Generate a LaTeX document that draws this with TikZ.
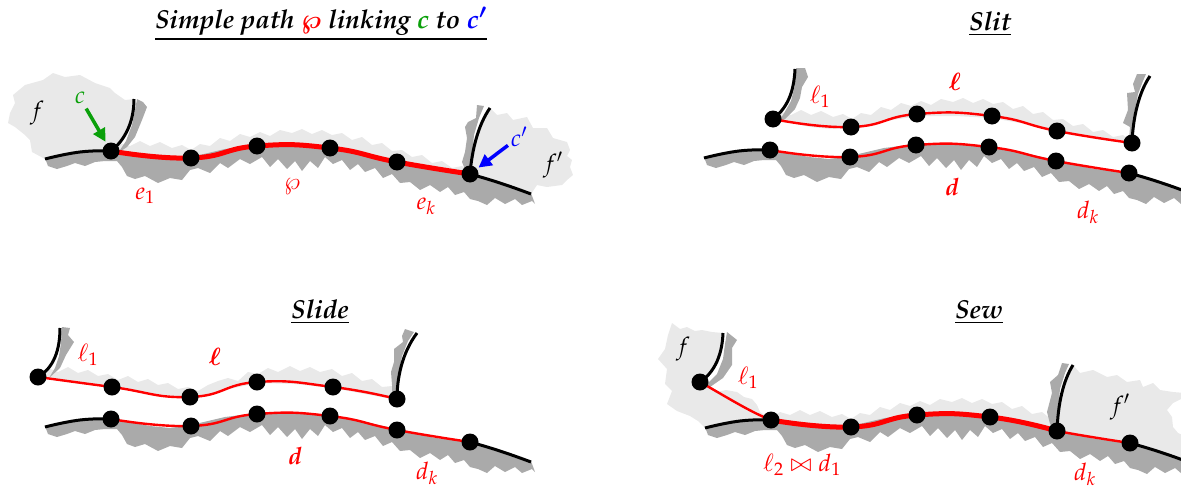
\documentclass[tikz,border=0pt]{standalone}
\usepackage[T1]{fontenc}
\usepackage{mathpazo}
\usepackage{bm}
\usetikzlibrary{arrows.meta}
\definecolor{shad}{RGB}{170,170,170}
\definecolor{lite}{RGB}{233,233,233}
\definecolor{grn}{RGB}{10,160,10}
\tikzset{
 blk/.style={black,line width=3pt},
 redthick/.style={red,line width=5pt},
 redthin/.style={red,line width=2.4pt},
 vtx/.style={circle,fill=black,inner sep=0pt,minimum size=17pt},
 lbl/.style={font=\fontsize{24}{28}\selectfont, inner sep=1pt},
 rlbl/.style={lbl,text=red},
 ttl/.style={font=\fontsize{26}{30}\selectfont\bfseries\itshape\boldmath, inner sep=0pt},
 sm/.style={smooth,tension=0.85},
 garrow/.style={line width=3.5pt,-{Triangle[length=13pt,width=13pt]}},
}
\newcommand\basepts[1]{%
 \coordinate (#1L) at (45,159);
 \coordinate (#1m) at (80,152);
 \coordinate (#1v1) at (111,151);
 \coordinate (#1v2) at (191,158);
 \coordinate (#1v3) at (257,146);
 \coordinate (#1v4) at (330,148);
 \coordinate (#1v5) at (397,162);
 \coordinate (#1v6) at (470,174);
 \coordinate (#1n) at (500,183);
 \coordinate (#1R) at (531,194);}
\newcommand\lowshadow{%
 \fill[shad] (45,158) -- (80,151) -- (111,150) -- (130,154) -- (150,158) -- (170,160) -- (191,157) -- (225,149) -- (257,145) -- (295,144) -- (330,147) -- (365,154) -- (397,161) -- (435,170) -- (470,173) -- (500,182) -- (531,193)
 -- (535,204) -- (532,201) -- (522,205) -- (515,199) -- (505,204) -- (495,198) -- (487,205) -- (478,201) -- (470,199) -- (464,192) -- (455,195) -- (448,187) -- (440,192) -- (430,185) -- (420,190) -- (410,182) -- (400,183) -- (392,174) -- (383,178) -- (375,168) -- (365,172) -- (358,164) -- (350,170) -- (342,160) -- (333,164) -- (325,157) -- (318,168) -- (310,161) -- (302,171) -- (295,161) -- (287,169) -- (278,159) -- (270,167) -- (262,157) -- (250,164) -- (240,159) -- (228,168) -- (220,163) -- (210,173) -- (198,168) -- (190,170) -- (182,180) -- (170,178) -- (158,183) -- (145,176) -- (135,179) -- (127,176) -- (122,167) -- (117,161) -- (105,161) -- (95,162) -- (85,166) -- (75,163) -- (67,166) -- (57,169) -- (48,166) -- cycle;}
\newcommand\basefringe{%
 \fill[lite] (111,149) -- (120,143) -- (130,146) -- (140,141) -- (150,146) -- (160,142) -- (172,148) -- (182,145) -- (191,150) -- (200,144) -- (210,146) -- (220,138) -- (230,141) -- (240,134) -- (250,137) -- (260,132) -- (270,136) -- (280,130) -- (292,133) -- (302,129) -- (312,134) -- (322,130) -- (332,135) -- (342,133) -- (352,140) -- (362,137) -- (372,145) -- (382,143) -- (392,151) -- (402,150) -- (412,157) -- (422,155) -- (432,163) -- (442,161) -- (452,168) -- (462,166) -- (470,172)
 -- (470,175) -- (435,170) -- (397,162) -- (365,155) -- (330,149) -- (295,147) -- (257,147) -- (225,152) -- (191,159) -- (170,160) -- (150,158) -- (130,154) -- (111,152) -- cycle;}
\begin{document}
\begin{tikzpicture}[x=1pt,y=-1pt]
\useasboundingbox (0,0) rectangle (1181,490);

%% ---------- Panel 1: simple path ----------
\begin{scope}
\basepts{a}
\coordinate (at1) at (134,99);
\coordinate (at6) at (490,108);
\fill[lite] (8,123) -- (10,113) -- (15,103) -- (13,95) -- (25,85) -- (43,80) -- (53,73) -- (65,77) -- (80,75) -- (95,83) -- (110,88) -- (115,93) -- (125,100) -- (134,99) .. controls (134,122) and (125,140) .. (111,151) -- (80,152) -- (45,159) -- (32,152) -- (30,140) -- (25,135) -- (15,127) -- cycle;
\fill[lite] (490,108) -- (497,115) -- (507,113) -- (513,120) -- (527,117) -- (533,128) -- (547,128) -- (553,138) -- (567,142) -- (570,150) -- (567,156) -- (572,160) -- (570,167) -- (573,175) -- (567,180) -- (562,185) -- (547,187) -- (537,185) -- (531,194) -- (500,183) -- (470,174) .. controls (472,150) and (478,125) .. (490,108) -- cycle;
\basefringe
\lowshadow
\fill[shad] (137,99) -- (143,102) -- (147,107) -- (142,120) -- (135,137) -- (127,147) -- (118,153) -- (126,141) -- (132,125) -- (135,110) -- cycle;
\fill[shad] (477,105) -- (484,106) -- (479,118) -- (474,135) -- (472,155) -- (470,172) -- (466,172) -- (462,162) -- (465,152) -- (467,138) -- (465,127) -- (468,122) -- (476,118) -- cycle;
\draw[blk] plot[sm] coordinates {(aL) (am) (av1)};
\draw[blk] (av1) .. controls (125,140) and (134,122) .. (at1);
\draw[blk] (av6) .. controls (472,150) and (478,125) .. (at6);
\draw[blk] plot[sm] coordinates {(av6) (an) (aR)};
\draw[redthick] plot[sm] coordinates {(av1) (av2) (av3) (av4) (av5) (av6)};
\foreach \i in {1,...,6} \node[vtx] (na\i) at (av\i) {};
\end{scope}

%% ---------- Panel 2: slit ----------
\begin{scope}[shift={(659,-1)}]
\basepts{b}
\coordinate (bu1) at (114,120);
\coordinate (bu2) at (192,128);
\coordinate (bu3) at (258,115);
\coordinate (bu4) at (333,117);
\coordinate (bu5) at (398,132);
\coordinate (bu6) at (473,144);
\coordinate (bt1) at (136,70);
\coordinate (bt6) at (491,77);
\begin{scope}[shift={(2,-30)}]\basefringe\end{scope}
\lowshadow
\fill[shad] (137,69) -- (146,69) -- (149,78) -- (143,88) -- (141,99) -- (136,110) -- (126,120) -- (116,124) -- (124,116) -- (132,102) -- (136,86) -- cycle;
\fill[shad] (478,75) -- (487,75) -- (484,82) -- (479,95) -- (475,115) -- (474,130) -- (473,142) -- (470,141) -- (471,128) -- (464,124) -- (469,111) -- (468,94) -- (476,93) -- (474,85) -- cycle;
\draw[blk] plot[sm] coordinates {(bL) (bm) (bv1)};
\draw[blk] plot[sm] coordinates {(bv6) (bn) (bR)};
\draw[blk] (bu1) .. controls (127,110) and (135,95) .. (bt1);
\draw[blk] (bu6) .. controls (474,118) and (480,93) .. (bt6);
\draw[redthin] plot[sm] coordinates {(bv1) (bv2) (bv3) (bv4) (bv5) (bv6)};
\draw[redthin] plot[sm] coordinates {(bu1) (bu2) (bu3) (bu4) (bu5) (bu6)};
\foreach \i in {1,...,6} {\node[vtx] (nbv\i) at (bv\i) {}; \node[vtx] (nbu\i) at (bu\i) {};}
\end{scope}

%% ---------- Panel 3: slide ----------
\begin{scope}[shift={(0,268)}]
\basepts{c}
\coordinate (cs1) at (38,109);
\coordinate (cs2) at (112,119);
\coordinate (cs3) at (190,129);
\coordinate (cs4) at (257,114);
\coordinate (cs5) at (333,119);
\coordinate (cs6) at (397,131);
\coordinate (ct1) at (60,60);
\coordinate (ct6) at (417,65);
\fill[lite] (38,107) -- (48,100) -- (58,104) -- (68,99) -- (78,105) -- (88,102) -- (98,108) -- (108,106) -- (118,112) -- (128,108) -- (138,114) -- (148,111) -- (158,117) -- (168,115) -- (178,121) -- (188,119) -- (198,123) -- (208,117) -- (218,113) -- (228,110) -- (238,113) -- (248,104) -- (258,106) -- (268,100) -- (278,104) -- (290,98) -- (300,103) -- (310,99) -- (320,104) -- (332,101) -- (342,108) -- (352,105) -- (362,113) -- (372,111) -- (382,119) -- (392,118) -- (397,129)
 -- (397,132) -- (365,126) -- (333,120) -- (295,116) -- (257,115) -- (225,122) -- (190,130) -- (150,125) -- (112,120) -- (75,115) -- (38,110) -- cycle;
\lowshadow
\fill[shad] (62,59) -- (70,60) -- (68,67) -- (74,74) -- (66,87) -- (60,100) -- (49,110) -- (55,100) -- (59,88) -- (61,75) -- cycle;
\fill[shad] (405,61) -- (414,64) -- (408,73) -- (402,88) -- (399,105) -- (398,125) -- (392,128) -- (392,117) -- (391,104) -- (394,94) -- (394,81) -- (403,74) -- (402,68) -- cycle;
\draw[blk] plot[sm] coordinates {(cL) (cm) (cv1)};
\draw[blk] plot[sm] coordinates {(cv6) (cn) (cR)};
\draw[blk] (cs1) .. controls (50,102) and (60,88) .. (ct1);
\draw[blk] (cs6) .. controls (397,110) and (402,85) .. (ct6);
\draw[redthin] plot[sm] coordinates {(cv1) (cv2) (cv3) (cv4) (cv5) (cv6)};
\draw[redthin] plot[sm] coordinates {(cs1) (cs2) (cs3) (cs4) (cs5) (cs6)};
\foreach \i in {1,...,6} {\node[vtx] (ncv\i) at (cv\i) {}; \node[vtx] (ncs\i) at (cs\i) {};}
\end{scope}

%% ---------- Panel 4: sew ----------
\begin{scope}[shift={(660,269)}]
\basepts{d}
\coordinate (dw) at (40,113);
\coordinate (dwt) at (63,64);
\coordinate (dft) at (413,96);
\fill[lite] (12,54) -- (20,60) -- (27,58) -- (35,62) -- (42,61) -- (52,63) -- (63,64) .. controls (62,90) and (52,105) .. (40,113) -- (50,118) -- (57,123) -- (66,121) -- (77,123) -- (84,128) -- (92,130) -- (97,136) -- (100,143) -- (111,151) -- (80,152) -- (45,159) -- (38,152) -- (30,147) -- (17,142) -- (7,135) -- (12,122) -- (5,115) -- (7,100) -- (-2,90) -- (5,80) -- (8,66) -- cycle;
\fill[lite] (413,96) -- (420,104) -- (433,101) -- (447,108) -- (457,106) -- (467,113) -- (480,111) -- (483,118) -- (493,114) -- (500,121) -- (513,123) -- (525,124) -- (525,128) -- (513,134) -- (507,141) -- (512,148) -- (513,158) -- (518,164) -- (525,167) -- (525,192) -- (500,183) -- (470,174) -- (435,170) -- (397,162) .. controls (398,135) and (403,112) .. (413,96) -- cycle;
\basefringe
\lowshadow
\fill[shad] (67,63) -- (77,71) -- (72,79) -- (72,96) -- (63,109) -- (50,118) -- (46,116) -- (57,105) -- (63,90) -- (65,75) -- cycle;
\fill[shad] (402,94) -- (409,95) -- (405,104) -- (400,120) -- (398,140) -- (397,160) -- (390,155) -- (387,143) -- (392,124) -- (390,113) -- (398,106) -- (400,100) -- cycle;
\draw[blk] plot[sm] coordinates {(dL) (dm) (dv1)};
\draw[blk] plot[sm] coordinates {(dv6) (dn) (dR)};
\draw[blk] (dw) .. controls (52,105) and (62,90) .. (dwt);
\draw[blk] (dv5) .. controls (398,135) and (403,112) .. (dft);
\draw[redthin] (dw) .. controls (65,127) and (90,143) .. (dv1);
\draw[redthin] plot[sm] coordinates {(dv1) (dv2) (dv3) (dv4) (dv5) (dv6)};
\draw[redthick] plot[sm] coordinates {(dv1) (dv2) (dv3) (dv4) (dv5)};
\node[vtx] (ndw) at (dw) {};
\foreach \i in {1,...,6} \node[vtx] (ndv\i) at (dv\i) {};
\end{scope}

%% ---------- Titles ----------
\node[ttl] (t1) at (321,24) {\underline{Simple path \textcolor{red}{$\wp$} linking \textcolor{grn}{$c$} to \textcolor{blue}{$c'$}}};
\node[ttl] (t2) at (990,24) {\underline{Slit}};
\node[ttl] (t3) at (320,312) {\underline{Slide}};
\node[ttl] (t4) at (979,312) {\underline{Sew}};

%% ---------- Labels ----------
\node[lbl] (lf) at (37,113) {$f$};
\node[lbl,text=grn] (lc) at (80,98) {$c$};
\draw[garrow,grn,shorten <=4pt,shorten >=2pt] (lc) -- (na1);
\node[lbl,text=blue] (lcp) at (519,137) {$c'$};
\draw[garrow,blue,shorten <=2pt,shorten >=2pt] (lcp) -- (na6);
\node[lbl] (lfp) at (553,165) {$f'$};
\node[rlbl] (le1) at (145,196) {$e_1$};
\node[rlbl] (lwp) at (292,187) {$\wp$};
\node[rlbl] (lek) at (426,206) {$e_k$};

\node[rlbl] (sl1) at (820,97) {$\ell_1$};
\node[rlbl] (sl) at (955,82) {$\bm{\ell}$};
\node[rlbl] (sd) at (952,187) {$\bm{d}$};
\node[rlbl] (sdk) at (1088,212) {$d_k$};

\node[rlbl] (dl1) at (88,355) {$\ell_1$};
\node[rlbl] (dl) at (215,357) {$\bm{\ell}$};
\node[rlbl] (dd) at (295,456) {$\bm{d}$};
\node[rlbl] (ddk) at (427,473) {$d_k$};

\node[lbl] (wf) at (683,349) {$f$};
\node[rlbl] (wl1) at (748,378) {$\ell_1$};
\node[rlbl] (wj) at (802,465) {$\ell_2\bowtie d_1$};
\node[lbl] (wfp) at (1120,407) {$f'$};
\node[rlbl] (wdk) at (1085,474) {$d_k$};
\end{tikzpicture}
\end{document}
